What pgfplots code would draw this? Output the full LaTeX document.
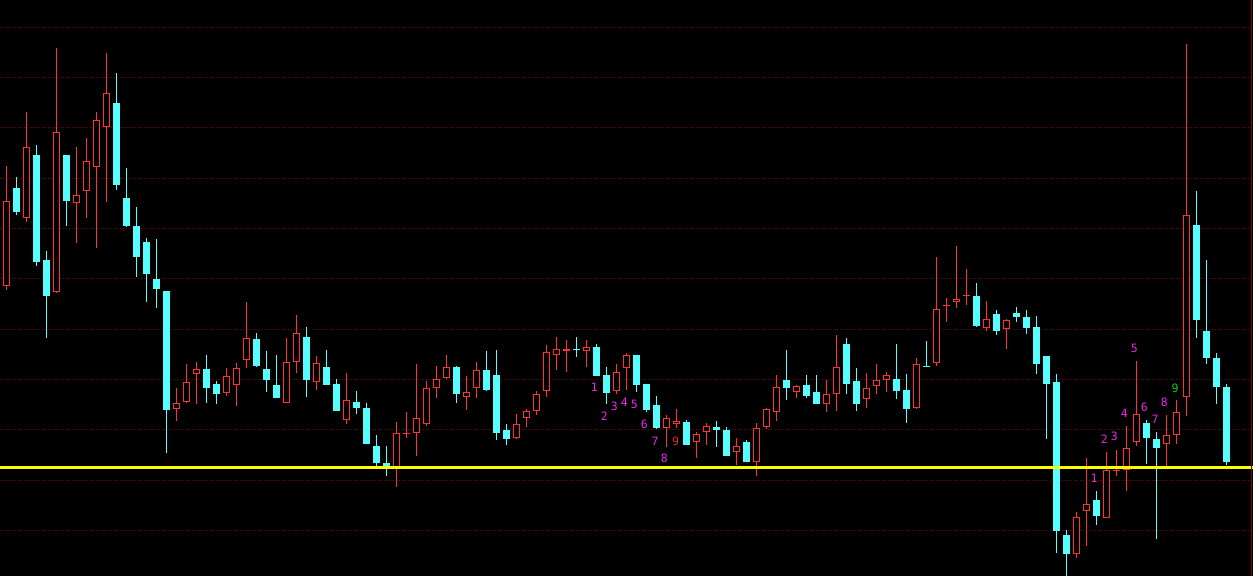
\documentclass[border=0pt]{standalone}
\usepackage{fontspec}
\usepackage{pgfplots}
\usepackage{pgfplotstable}
\pgfplotsset{compat=1.18}
\newfontfamily\labelfont{DejaVu Sans Mono}
\definecolor{upred}{RGB}{255,50,50}
\definecolor{dncyan}{RGB}{85,255,255}
\definecolor{gridred}{RGB}{128,0,0}
\definecolor{lblmag}{RGB}{230,40,230}
\definecolor{lblred}{RGB}{225,45,45}
\definecolor{lblgreen}{RGB}{20,200,20}
\definecolor{lvlyellow}{RGB}{255,255,0}

% candles read in screen rows (y grows downward): hi = top of wick, bt/bb = body top/bottom, lo = bottom of wick
\pgfplotstableread{
i hi bt bb lo
0 166 201.3 285.7 290
2 112 147.3 217.7 221.7
5 48 132.3 291.7 292.7
7 147 195.3 202.7 242.7
8 138 161.3 190.7 218
9 112 120.3 167.3 247.7
10 53 93.3 126.7 202
17 388 403.3 408.7 421
18 364 382 401.7 402.7
19 362 369.3 373.7 404
22 368 376.3 392.7 395.7
23 363 368.3 384.7 406
24 302 338.3 359.7 368
28 338 362.3 402.7 402.7
29 315 333 361.7 373
31 356 363.3 381.7 390
34 373 400 419.7 424
39 422 433.3 467 486.7
40 412 433 434 438
41 364 418.3 432.7 456
42 381 388.3 423.7 425.7
43 366 379.3 387.7 398
44 355 367.3 378 379
46 376 392.3 396.7 410
47 362 370.3 387.7 398
51 414 424.3 437.7 439
52 409 411.3 417.7 427
53 391 394.3 410.7 415
54 345 352.3 390.7 397
55 337 349.3 355.3 370
56 340 349 350.7 372
58 340 347.3 350.7 367
61 364 372.3 390.7 394
62 353 355 367.7 390
66 415 418.3 427.7 447
67 409 421 423.7 428
69 432 434 441.7 458
70 423 426 431.7 445
73 438 446 451.7 465
75 423 428.3 461.7 476
76 408 409 426.7 428.7
77 375 387.3 411.7 421
79 385 386.3 391.7 398
82 380 394 403.7 411.7
83 335 367 393.7 410.7
86 373 388 398.7 407.7
87 364 380 385.7 393.7
88 372 375 380.3 391.7
91 358 364 407.7 408.7
93 257 309 362.7 365.7
94 298 304.5 305.5 321.7
95 246 299.3 301.7 308
96 269 294.5 295.5 305
98 301 319.3 327.7 330.7
100 319 320.3 328.7 348.7
107 511.9 517.1 553.7 557.5
108 458 504.2 510.5 545.7
110 452 470.1 517.5 517.5
111 449.9 469.6 470.6 475.7
112 425.9 448.2 469.8 490.7
113 361.1 414.4 441.6 445.7
116 415.1 435.3 443.7 469.4
117 400.1 412.3 435.3 443.7
118 43.9 215.2 397.3 415.8
}\uptab

\pgfplotstableread{
i hi bt bb lo
1 177 188 212 215
3 145 155 261.7 266
4 251 260 295.7 337.7
6 155 155 201 226
11 73 103 185 190
12 168 198 226 227
13 207 226 257 277
14 238 242 274 302
15 239 279 289 308
16 291 291 410 453
20 355 369 388 403
21 381 384 394 404
25 333 339 366 367
26 351 369 380 392
27 355 385 398 398
30 327 337 380 397
32 350 367 385 385
33 379 384 411 411
35 391 402 408 414
36 403 408 444 444
37 435 446 463 466
38 446 463 467 476
45 366 367 394 403
48 351 370.3 390 391
49 350 375 433 440
50 424 430 439 445
57 337 349 350 357
59 344 347 376 376
60 367 375 393 404
63 355 355 385 392
64 384 384 410 412
65 396 405 428 429
68 420 422 445 445
71 421 427 430 447
72 427 430 456 456
74 440 442 462 462
78 350 380 388 400
80 375 385 396 398
81 375 392 403.7 403.7
84 338 344 383.7 393.7
85 368 381 403.7 410.7
89 344 379 390.7 398.7
90 374 390 408.7 422.7
92 341 365.5 366.5 366.7
97 283 296 326 327
99 310 314 330.7 334.7
101 307 313 316.7 321.7
102 310 317 327.7 333.7
103 316 327 363.7 373.7
104 356 356 384 439
105 374 382 530.7 553
106 530 535 553.7 576
109 491 500 515.7 524.8
114 420 423.1 437.7 463.5
115 431.8 439.1 447.5 538.7
119 190.9 225 319.7 337.8
120 260.2 330.8 357.6 363.6
121 353.1 358 386.5 403.6
122 384.1 386.9 461.8 465.2
}\dntab

\begin{document}
\begin{tikzpicture}
\begin{axis}[
  scale only axis, width=1253pt, height=576pt,
  xmin=-0.63, xmax=124.67, ymin=0, ymax=576, y dir=reverse,
  axis background/.style={fill=black},
  axis line style={draw=none},
  xtick=\empty,
  ytick={27.3,77.6,127.9,178.2,228.5,278.8,329.1,379.4,429.7,480,530.3},
  yticklabels={}, major tick length=0pt, tick style={draw=none},
  ymajorgrids, grid style={color=gridred, dash pattern=on 1pt off 2pt, line width=1pt},
  clip=true,
  candle/.style 2 args={draw=none, mark=none, forget plot,
    error bars/.cd, y dir=plus, y explicit, error mark=none,
    error bar style={draw=#1, line width=#2}},
]
% wicks
\addplot[candle={upred}{1pt}]
  table[x=i, y=hi, y error plus expr=\thisrow{lo}-\thisrow{hi}] {\uptab};
\addplot[candle={dncyan}{1pt}]
  table[x=i, y=hi, y error plus expr=\thisrow{lo}-\thisrow{hi}] {\dntab};
% bodies
\addplot[candle={dncyan}{7pt}]
  table[x=i, y=bt, y error plus expr=\thisrow{bb}-\thisrow{bt}] {\dntab};
\addplot[candle={upred}{7pt}]
  table[x=i, y=bt, y error plus expr=\thisrow{bb}-\thisrow{bt}] {\uptab};
\addplot[candle={black}{5pt}]
  table[x=i, y expr=\thisrow{bt}+1, y error plus expr={max(\thisrow{bb}-\thisrow{bt}-2,0)}] {\uptab};
% level line
\addplot[lvlyellow, line width=3pt, mark=none] coordinates {(-1,467) (126,467)};
% right border
\draw[gridred, line width=1pt] (axis cs:124.54,0) -- (axis cs:124.54,576);
% count labels
\begin{scope}[every node/.style={font=\labelfont\fontsize{11.5}{11.5}\selectfont, inner sep=0pt}]
\node[text=lblmag] at (axis cs:58.8,387.7) {1};
\node[text=lblmag] at (axis cs:59.8,416) {2};
\node[text=lblmag] at (axis cs:60.8,406) {3};
\node[text=lblmag] at (axis cs:61.8,402.3) {4};
\node[text=lblmag] at (axis cs:62.8,404) {5};
\node[text=lblmag] at (axis cs:63.8,424) {6};
\node[text=lblmag] at (axis cs:64.87,441) {7};
\node[text=lblmag] at (axis cs:65.8,458.7) {8};
\node[text=lblred] at (axis cs:66.94,441) {9};
\node[text=lblmag] at (axis cs:108.77,478.3) {1};
\node[text=lblmag] at (axis cs:109.8,439) {2};
\node[text=lblmag] at (axis cs:110.8,436.7) {3};
\node[text=lblmag] at (axis cs:111.8,413.3) {4};
\node[text=lblmag] at (axis cs:112.8,348.3) {5};
\node[text=lblmag] at (axis cs:113.8,407.3) {6};
\node[text=lblmag] at (axis cs:114.87,419) {7};
\node[text=lblmag] at (axis cs:115.8,402.3) {8};
\node[text=lblgreen] at (axis cs:116.87,388.3) {9};
\end{scope}
\end{axis}
\pgfresetboundingbox
\useasboundingbox (current axis.south west) rectangle (current axis.north east);
\end{tikzpicture}
\end{document}
